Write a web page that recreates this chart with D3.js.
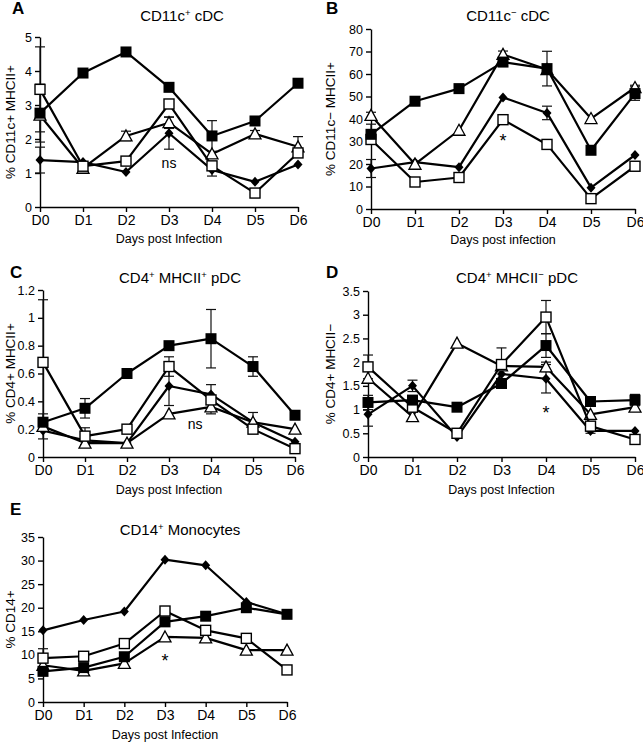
<!DOCTYPE html>
<html><head><meta charset="utf-8">
<script src="https://cdn.jsdelivr.net/npm/d3@7"></script>
<style>
body{margin:0;background:#fff}
svg{display:block}
text{font-family:"Liberation Sans",Arial,Helvetica,sans-serif;fill:#000}
</style>
</head><body>
<svg id="chart" width="643" height="742"></svg>
<script>
const days = ["D0","D1","D2","D3","D4","D5","D6"];

// Panel A – CD11c+ cDC
const aTicks = [0,1,2,3,4,5];
const aFilledSq = [2.76,3.94,4.56,3.52,2.09,2.53,3.64];
const aOpenSq   = [3.46,1.20,1.35,3.03,1.21,0.41,1.59];
const aTri      = [2.70,1.14,2.09,2.48,1.56,2.15,1.77];
const aDia      = [1.38,1.32,1.03,2.17,1.09,0.74,1.25];
const aFilledSqErr = [0.85,0,0,0,0.45,0.05,0];
const aOpenSqErr   = [1.25,0,0,0,0.10,0,0];
const aTriErr      = [0,0,0.14,0.17,0,0.10,0.30];
const aDiaErr      = [0.38,0,0,0.47,0.18,0,0];

// Panel B – CD11c− cDC
const bTicks = [0,10,20,30,40,50,60,70,80];
const bFilledSq = [33.2,47.9,53.5,65.3,62.4,26.1,51.3];
const bOpenSq   = [30.9,12.0,14.0,39.7,28.7,4.6,19.0];
const bTri      = [41.6,19.9,35.0,68.7,62.0,40.2,54.0];
const bDia      = [18.0,20.8,18.6,49.6,42.7,9.5,24.0];
const bFilledSqErr = [4.5,0,0,1,7.7,0,3];
const bOpenSqErr   = [0,0,0,0,0,0,0];
const bTriErr      = [1.4,0,0,1.5,0,0,1];
const bDiaErr      = [4,0,0,0,3,0,0];

// Panel C – CD4+ MHCII+ pDC
const cTicks = [0,0.2,0.4,0.6,0.8,1,1.2];
const cFilledSq = [0.25,0.35,0.60,0.80,0.85,0.65,0.30];
const cOpenSq   = [0.68,0.15,0.20,0.65,0.41,0.20,0.06];
const cTri      = [0.22,0.10,0.10,0.31,0.36,0.25,0.20];
const cDia      = [0.19,0.12,0.10,0.51,0.45,0.25,0.11];
const cFilledSqErr = [0.06,0.07,0,0,0.21,0.07,0];
const cOpenSqErr   = [0.45,0.06,0,0.07,0,0,0];
const cTriErr      = [0,0,0,0,0.05,0.07,0];
const cDiaErr      = [0.06,0,0,0.14,0.07,0,0];

// Panel D – CD4+ MHCII− pDC
const dTicks = [0,0.5,1,1.5,2,2.5,3,3.5];
const dFilledSq = [1.15,1.20,1.05,1.55,2.35,1.17,1.20];
const dOpenSq   = [1.90,1.05,0.50,1.95,2.95,0.65,0.37];
const dTri      = [1.66,0.85,2.40,1.92,1.90,0.90,1.05];
const dDia      = [0.90,1.50,0.42,1.75,1.65,0.55,0.55];
const dFilledSqErr = [0.15,0,0,0,0.25,0,0.12];
const dOpenSqErr   = [0.25,0,0,0.35,0.35,0,0];
const dTriErr      = [0,0,0,0,0.10,0,0];
const dDiaErr      = [0.25,0.12,0,0,0.30,0.05,0];

// Panel E – CD14+ Monocytes
const eTicks = [0,5,10,15,20,25,30,35];
const eFilledSq = [6.5,7.3,9.6,17.0,18.2,20.0,18.6];
const eOpenSq   = [9.3,9.7,12.4,19.3,15.2,13.5,6.8];
const eTri      = [7.8,6.6,8.2,13.8,13.6,11.0,11.0];
const eDia      = [15.2,17.4,19.2,30.2,29.0,21.2,18.6];
const eFilledSqErr = [0,0,0,0,0,0,0];
const eOpenSqErr   = [2,0,0,0,0,0,0];
const eTriErr      = [0,0,0,0,0,0,0];
const eDiaErr      = [0,0,0,0,0,0,0];

const panels = [
  {letter:"A", lx:12, ly:14, x0:40, x6:298, yb:207, yt:37, max:5, ticks:aTicks,
   title:[["CD11c",0],["+",1],[" cDC",0]], tx:182, ty:21,
   ylabel:"% CD11c+ MHCII+", ylx:10, xlabel:"Days post Infection", xly:243,
   s:[aDia,aTri,aOpenSq,aFilledSq], e:[aDiaErr,aTriErr,aOpenSqErr,aFilledSqErr],
   note:{t:"ns", day:3, dx:0, v:1.15, fs:14}},
  {letter:"B", lx:326, ly:14, x0:371, x6:635, yb:209, yt:29, max:80, ticks:bTicks,
   title:[["CD11c",0],["\u2212",1],[" cDC",0]], tx:508, ty:21,
   ylabel:"% CD11c\u2212 MHCII+", ylx:330, xlabel:"Days post infection", xly:244,
   s:[bDia,bTri,bOpenSq,bFilledSq], e:[bDiaErr,bTriErr,bOpenSqErr,bFilledSqErr],
   note:{t:"*", day:3, dx:0, v:27.5, fs:18}},
  {letter:"C", lx:10, ly:278, x0:43, x6:295, yb:457, yt:290, max:1.2, ticks:cTicks,
   title:[["CD4",0],["+",1],[" MHCII",0],["+",1],[" pDC",0]], tx:180, ty:283,
   ylabel:"% CD4+ MHCII+", ylx:10, xlabel:"Days post Infection", xly:494,
   s:[cDia,cTri,cOpenSq,cFilledSq], e:[cDiaErr,cTriErr,cOpenSqErr,cFilledSqErr],
   note:{t:"ns", day:3, dx:0.62, v:0.2, fs:14}},
  {letter:"D", lx:326, ly:278, x0:368, x6:635, yb:457, yt:291, max:3.5, ticks:dTicks,
   title:[["CD4",0],["+",1],[" MHCII",0],["\u2212",1],["  pDC",0]], tx:517, ty:283,
   ylabel:"% CD4+ MHCII\u2212", ylx:330, xlabel:"Days post Infection", xly:494,
   s:[dDia,dTri,dOpenSq,dFilledSq], e:[dDiaErr,dTriErr,dOpenSqErr,dFilledSqErr],
   note:{t:"*", day:4, dx:0, v:0.8, fs:18}},
  {letter:"E", lx:10, ly:515, x0:43, x6:287, yb:702, yt:537, max:35, ticks:eTicks,
   title:[["CD14",0],["+",1],[" Monocytes",0]], tx:180, ty:535,
   ylabel:"% CD14+", ylx:10, xlabel:"Days post Infection", xly:739,
   s:[eDia,eTri,eOpenSq,eFilledSq], e:[eDiaErr,eTriErr,eOpenSqErr,eFilledSqErr],
   note:{t:"*", day:3, dx:0, v:7.4, fs:18}}
];

const svg = d3.select("#chart");
const kinds = ["dia","tri","open","filled"];

panels.forEach(p => {
  const g = svg.append("g");
  const x = d3.scalePoint().domain(days).range([p.x0, p.x6]);
  const y = d3.scaleLinear().domain([0, p.max]).range([p.yb, p.yt]);
  const step = x.step();

  // axes
  const ya = g.append("g").attr("transform",`translate(${p.x0},0)`)
    .call(d3.axisLeft(y).tickValues(p.ticks).tickSize(5).tickSizeOuter(0).tickPadding(3)
      .tickFormat(d => d3.format("~g")(d)));
  ya.selectAll("text").style("font-size","12.5px");
  const xa = g.append("g").attr("transform",`translate(0,${p.yb})`)
    .call(d3.axisBottom(x).tickSize(5).tickSizeOuter(0).tickPadding(3));
  xa.selectAll("text").style("font-size","14px");
  g.selectAll(".domain, .tick line").attr("stroke","#000").attr("stroke-width",1.4);

  // letter
  g.append("text").attr("x",p.lx).attr("y",p.ly).text(p.letter)
    .style("font-size","17px").style("font-weight","bold");
  // title
  const tt = g.append("text").attr("x",p.tx).attr("y",p.ty).attr("text-anchor","middle").style("font-size","15px");
  p.title.forEach(([t,sup]) => {
    const ts = tt.append("tspan").text(t);
    if (sup) ts.attr("baseline-shift","super").style("font-size","9.5px");
  });
  // y label
  g.append("text").attr("transform",`translate(${p.ylx},${(p.yb+p.yt)/2}) rotate(-90)`)
    .attr("text-anchor","middle").attr("dy","0.35em").style("font-size","13.5px").text(p.ylabel);
  // x label
  g.append("text").attr("x",(p.x0+p.x6)/2).attr("y",p.xly).attr("text-anchor","middle")
    .style("font-size","12.5px").text(p.xlabel);

  // error bars
  p.s.forEach((vals, si) => {
    const errs = p.e[si];
    vals.forEach((v,i) => {
      const er = errs[i];
      if (!er) return;
      const cx = x(days[i]);
      const y1 = y(v+er), y2 = y(Math.max(0,v-er));
      const eg = g.append("g").attr("stroke","#111").attr("stroke-width",1.2);
      eg.append("line").attr("x1",cx).attr("x2",cx).attr("y1",y1).attr("y2",y2);
      eg.append("line").attr("x1",cx-5).attr("x2",cx+5).attr("y1",y1).attr("y2",y1);
      eg.append("line").attr("x1",cx-5).attr("x2",cx+5).attr("y1",y2).attr("y2",y2);
    });
  });

  // series
  const line = d3.line().x((d,i)=>x(days[i])).y(d=>y(d));
  p.s.forEach((vals, si) => {
    const k = kinds[si];
    g.append("path").datum(vals).attr("d",line).attr("fill","none")
      .attr("stroke","#000").attr("stroke-width",2.2).attr("stroke-linejoin","round");
    const mg = g.append("g");
    vals.forEach((v,i) => {
      const cx = x(days[i]), cy = y(v);
      if (k==="filled") {
        mg.append("rect").attr("x",cx-5.5).attr("y",cy-5.5).attr("width",11).attr("height",11).attr("fill","#000");
      } else if (k==="open") {
        mg.append("rect").attr("x",cx-5).attr("y",cy-5).attr("width",10).attr("height",10)
          .attr("fill","#fff").attr("stroke","#000").attr("stroke-width",1.4);
      } else if (k==="tri") {
        mg.append("path").attr("d",`M${cx},${cy-6}L${cx+6},${cy+5}L${cx-6},${cy+5}Z`)
          .attr("fill","#fff").attr("stroke","#000").attr("stroke-width",1.3);
      } else {
        mg.append("path").attr("d",`M${cx},${cy-5}L${cx+4.5},${cy}L${cx},${cy+5}L${cx-4.5},${cy}Z`).attr("fill","#000");
      }
    });
  });

  // annotation
  const n = p.note;
  g.append("text").attr("x", x(days[n.day]) + n.dx*step).attr("y", y(n.v))
    .attr("text-anchor","middle").style("font-size", n.fs+"px").text(n.t);
});
</script>
</body></html>
